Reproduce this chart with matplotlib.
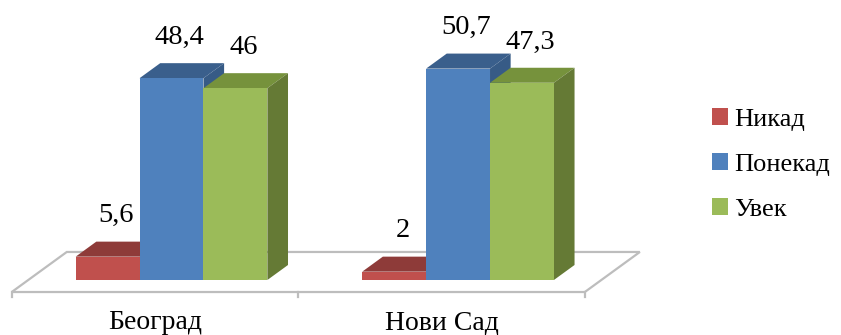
import matplotlib.pyplot as plt
from matplotlib.patches import Polygon, Patch

plt.rcParams['font.family'] = ['Liberation Serif', 'DejaVu Serif']

cities = ["Београд", "Нови Сад"]
series = ["Никад", "Понекад", "Увек"]
nikad = [5.6, 2]
ponekad = [48.4, 50.7]
uvek = [46, 47.3]
labels = [["5,6", "2"], ["48,4", "50,7"], ["46", "47,3"]]

front = ["#C0504D", "#4F81BD", "#9BBB59"]
top = ["#8E3B39", "#3A5F8C", "#76923C"]
side = ["#8A3533", "#375B86", "#657A35"]

# oblique projection: full floor depth in (category, value) units
DX, DY = 0.192, 9.6
d0, d1 = 0.3, 0.675          # bars sit between these fractions of the depth
barw = 0.223

fig = plt.figure(figsize=(8.41, 3.35), dpi=100)
ax = fig.add_axes([0, 0, 1, 1])
ax.set_xlim(-0.541, 2.394)
ax.set_ylim(-13.19, 67.15)
ax.axis("off")

# floor
fy = -d0 * DY
floor = [(-0.5, fy), (1.5, fy), (1.5 + DX, fy + DY), (-0.5 + DX, fy + DY)]
ax.add_patch(Polygon(floor, closed=True, facecolor="white", edgecolor="#BDBDBD", lw=1.6, zorder=1))
for xt in [-0.5, 0.5, 1.5]:
    ax.plot([xt, xt], [fy, fy - 1.3], color="#BDBDBD", lw=1.6, zorder=1)

ox = d0 * DX
bx, by = (d1 - d0) * DX, (d1 - d0) * DY

values = [nikad, ponekad, uvek]

z = 2
for c in range(2):
    for s in range(3):
        v = values[s][c]
        x0 = c - 1.5 * barw + s * barw + ox
        x1 = x0 + barw
        ax.add_patch(Polygon([(x0, v), (x1, v), (x1 + bx, v + by), (x0 + bx, v + by)],
                             closed=True, facecolor=top[s], edgecolor="none", zorder=z))
        ax.add_patch(Polygon([(x1, 0), (x1 + bx, by), (x1 + bx, v + by), (x1, v)],
                             closed=True, facecolor=side[s], edgecolor="none", zorder=z))
        ax.bar(x0, v, width=barw, align="edge", color=front[s], zorder=z + 0.5)
        ax.text(x0 + barw / 2 + bx * 0.4, v + by + 6.2, labels[s][c],
                ha="center", va="center", fontsize=20.5, zorder=10)
        z += 1

for c, name in enumerate(cities):
    ax.text(c, -10.3, name, ha="center", va="center", fontsize=20)

handles = [Patch(facecolor=front[s], edgecolor="none") for s in range(3)]
fig.legend(handles, series, loc="upper left", bbox_to_anchor=(712 / 841, 1 - 108 / 335),
           frameon=False, fontsize=19, handlelength=0.6, handleheight=0.6,
           handletextpad=0.25, labelspacing=0.85, borderaxespad=0, borderpad=0)

fig.savefig("out.png", dpi=100)
